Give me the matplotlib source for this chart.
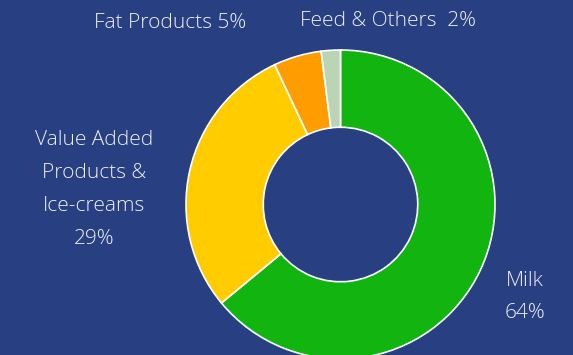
import matplotlib
matplotlib.use("Agg")
import matplotlib.pyplot as plt

categories = ["Milk", "Value Added\nProducts &\nIce-creams", "Fat Products", "Feed & Others "]
values = [64, 29, 5, 2]
colors = ["#12B510", "#FFCC00", "#FF9C00", "#BCD4B6"]
bg = "#283F82"
txt = "#EEF0F6"

W, H = 573, 355
fig = plt.figure(figsize=(W / 100, H / 100), dpi=100, facecolor=bg)
ax = fig.add_axes([0, 0, 1, 1])
ax.set_facecolor(bg)

cx, cy, r = 340.5, H - 204.5, 154.5
ax.pie(values, colors=colors, startangle=90, counterclock=False,
       center=(cx, cy), radius=r,
       wedgeprops=dict(width=r * 0.5, edgecolor="white", linewidth=1.2))
ax.set_xlim(0, W)
ax.set_ylim(0, H)
ax.set_aspect("equal")
ax.axis("off")

font = dict(family="Open Sans", weight="light", color=txt, fontsize=15)
# Milk
ax.text(525, H - 297.5, f"{categories[0]}\n{values[0]}%", ha="center", va="center", linespacing=1.8, **font)
# Value added
ax.text(94, H - 189.5, f"{categories[1]}\n{values[1]}%", ha="center", va="center", linespacing=1.85, **font)
# Fat
ax.text(170.5, H - 23, f"{categories[2]} {values[2]}%", ha="center", va="center", **font)
# Feed
ax.text(388.5, H - 21, f"{categories[3]} {values[3]}%", ha="center", va="center", **font)

fig.savefig("out.png", dpi=100, facecolor=bg)
